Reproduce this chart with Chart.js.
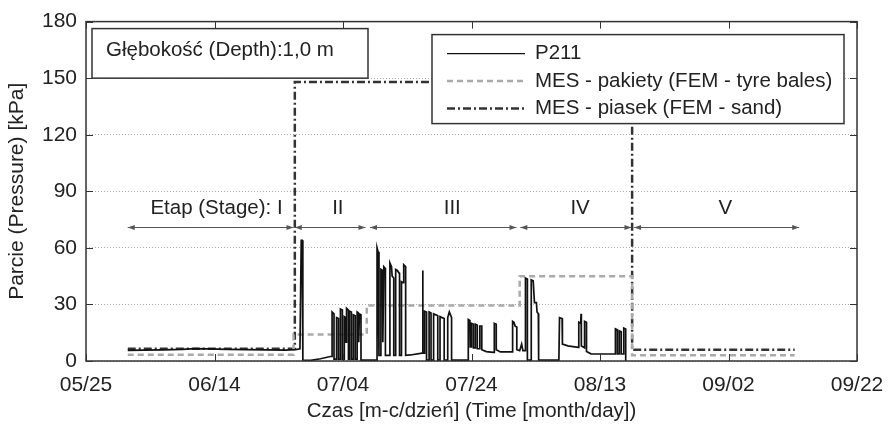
<!DOCTYPE html>
<html>
<head>
<meta charset="utf-8">
<script src="https://cdn.jsdelivr.net/npm/chart.js@4.4.1/dist/chart.umd.min.js"></script>
<style>body{margin:0;background:#fff}canvas{display:block}</style>
</head>
<body>
<canvas id="c" width="888" height="426"></canvas>
<script>
// days counted from 05/25
const xTickLabels = ["05/25", "06/14", "07/04", "07/24", "08/13", "09/02", "09/22"];
const seriesNames = ["P211", "MES - pakiety (FEM - tyre bales)", "MES - piasek (FEM - sand)"];
const depthLabel = "Głębokość (Depth):1,0 m";

// measured pressure P211 [day, kPa]
const p211 = [
  [6.5,5.6],[9,5.8],[12,5.9],[15,6.2],[17,6.6],[19,6.4],[22,6.2],[25,6.0],[28,5.9],[31,5.8],[32.6,6.0],[33.3,6.5],
  [33.5,64],[33.65,64],[33.75,0.5],[35,0.3],[36.5,1.2],[38.2,2.5],
  [38.3,2.5],[38.3,26],[38.6,25],[38.6,1],
  [39.0,1],[39.0,23],[39.3,22.5],[39.3,1],
  [39.6,1],[39.6,27.5],[39.9,27],[39.9,1],
  [40.2,1],[40.2,23.5],[40.4,23],[40.45,10],[40.55,10],[40.55,28],[40.85,27],[40.85,1],
  [41.0,1],[41.0,26.5],[41.3,26],[41.3,1],
  [41.6,1],[41.6,24.5],[41.9,24],[41.9,1],
  [42.2,1],[42.2,26],[42.4,25.5],[42.45,10],[42.55,25],[42.8,24.5],[42.8,0.5],
  [45.2,0.5],
  [45.3,0.5],[45.3,60],[45.45,58],[45.6,3],
  [45.9,3],[45.9,48.6],[46.15,48],[46.2,10],[46.35,50],[46.6,49],[46.6,3],
  [47.3,3],[47.3,52],[47.55,50],[47.65,45],[47.9,44],[47.9,3],
  [48.2,3],[48.2,48.5],[48.45,48],[48.55,47.5],[48.8,46.5],[48.8,3],
  [49.1,3],[49.1,42],[49.35,41.5],[49.45,51],[49.75,50],[49.75,3],
  [50.5,3.2],[52.3,4.2],[52.4,48],[52.45,4.2],[52.7,4.2],
  [52.7,26.4],[53.0,26],[53.0,0.5],
  [53.4,0.5],[53.4,26],[53.7,25.5],[53.7,0.5],
  [54.1,0.5],[54.1,25],[54.35,24.6],[54.45,24.5],[54.75,24],[54.75,0.5],
  [55.1,0.5],[55.1,23.5],[55.4,23],[55.45,23],[55.75,22.5],[55.75,0.5],
  [56.3,0.5],[56.3,23],[56.55,26],[56.6,26],[56.9,23],[56.9,0.5],
  [59.4,0.5],
  [59.5,0.5],[59.5,22],[59.75,21.5],[59.8,7.5],[60.0,7.5],[60.0,20],[60.3,19.5],[60.3,7],
  [60.6,7],[60.6,19.5],[60.9,19],[60.9,6.5],[61.3,6.5],[61.3,18.5],[61.6,18.5],[61.6,6],
  [62.3,5],[63.4,4.6],[63.55,4.6],[63.55,20],[63.85,19.5],[63.85,6],[64.5,4.8],[66.3,4.8],
  [66.4,4.8],[66.4,21],[66.6,20.5],[66.8,18.5],[67.05,18],[67.05,6],[67.5,5.5],[67.8,9],[68.0,5.5],[68.3,5.5],
  [68.4,5.5],[68.4,44],[68.7,43.5],[68.7,0.5],[69.3,0.5],[69.3,43],[69.6,42.5],[69.8,31],[70.1,31],[70.2,26],[70.4,25],[70.45,0.5],
  [73.6,0.5],[73.7,23],[74.1,22.5],[74.15,9],[75,8],[76.6,7.2],
  [76.7,7.2],[76.7,20.6],[77.0,20],[77.05,25],[77.1,8],[77.6,7],[77.6,21],[77.9,20.5],[77.9,5],[78.6,3.8],[82.3,3.7],
  [82.4,3.7],[82.4,17],[82.7,16.5],[82.7,3.7],[83.0,3.7],[83.0,16],[83.3,15.5],[83.3,3.7],
  [83.7,3.7],[83.7,17.5],[84.0,17],[84.0,0]
];

// FEM results
const tyreDays = [6.5, 32.3, 32.3, 43.7, 43.7, 67.5, 67.5, 85, 85, 110.3];
const tyreVals = [3.3, 3.3, 14, 14, 29.5, 29.5, 45, 45, 3, 3];
const sandDays = [6.5, 32.5, 32.5, 85, 85, 110.3];
const sandVals = [6.5, 6.5, 148, 148, 6, 6];

// stages
const stageNames = ["Etap (Stage): I", "II", "III", "IV", "V"];
const stageFrom = [6.5, 32.5, 44.2, 67.6, 85.3];
const stageTo = [32.3, 43.5, 67, 84.9, 111];

const toPts = (xs, ys) => xs.map((d, i) => ({x: d, y: ys[i]}));

const styles = [
  {color: '#111', width: 1.7, dash: []},
  {color: '#aaa', width: 2.5, dash: [6, 4]},
  {color: '#333', width: 2.5, dash: [8, 3, 2, 3]}
];
const txtFont = '20.5px "Liberation Sans", Arial, sans-serif';

function arrowHead(ctx, px, py, dir) {
  ctx.beginPath();
  ctx.moveTo(px, py);
  ctx.lineTo(px + dir * 7, py - 2.5);
  ctx.lineTo(px + dir * 7, py + 2.5);
  ctx.closePath();
  ctx.fill();
}

const deco = {
  id: 'deco',
  afterDatasetsDraw(chart) {
    const {ctx, chartArea: a, scales: {x, y}} = chart;
    ctx.save();
    ctx.setLineDash([]);

    // stage arrows and labels
    const ay = Math.round(y.getPixelForValue(71)) + 0.5;
    ctx.strokeStyle = '#555';
    ctx.fillStyle = '#555';
    ctx.lineWidth = 1;
    stageFrom.forEach((d, i) => {
      const x0 = x.getPixelForValue(d), x1 = x.getPixelForValue(stageTo[i]);
      ctx.beginPath(); ctx.moveTo(x0, ay); ctx.lineTo(x1, ay); ctx.stroke();
      arrowHead(ctx, x0, ay, 1);
      arrowHead(ctx, x1, ay, -1);
    });
    ctx.fillStyle = '#222';
    ctx.font = txtFont;
    ctx.textBaseline = 'middle';
    const ly = y.getPixelForValue(81);
    const labelAt = [30.6, 39.2, 57, 76.9, 99.5];
    stageNames.forEach((s, i) => {
      ctx.textAlign = i === 0 ? 'right' : 'center';
      ctx.fillText(s, x.getPixelForValue(labelAt[i]), ly);
    });

    // depth box
    ctx.lineWidth = 1.5;
    ctx.strokeStyle = '#333';
    const bx = a.left + 6, by = a.top + 7, bw = 276, bh = y.getPixelForValue(150) - by;
    ctx.fillStyle = '#fff';
    ctx.fillRect(bx, by, bw, bh);
    ctx.strokeRect(bx, by, bw, bh);
    ctx.fillStyle = '#222';
    ctx.textAlign = 'left';
    ctx.fillText(depthLabel, bx + 14, by + bh / 2 - 3);

    // legend box
    const gx = a.left + 346, gy = a.top + 13, gw = a.right - 13 - gx, gh = 89;
    ctx.fillStyle = '#fff';
    ctx.fillRect(gx, gy, gw, gh);
    ctx.strokeRect(gx, gy, gw, gh);
    seriesNames.forEach((s, i) => {
      const ry = gy + 19 + i * 27.5;
      ctx.strokeStyle = styles[i].color;
      ctx.lineWidth = i === 0 ? 1.2 : styles[i].width;
      ctx.setLineDash(styles[i].dash);
      ctx.beginPath(); ctx.moveTo(gx + 15, ry); ctx.lineTo(gx + 93, ry); ctx.stroke();
      ctx.setLineDash([]);
      ctx.fillStyle = '#222';
      ctx.fillText(s, gx + 103, ry);
    });

    // frame and inward ticks
    ctx.strokeStyle = '#333';
    ctx.lineWidth = 1.5;
    ctx.strokeRect(a.left, a.top, a.right - a.left, a.bottom - a.top);
    ctx.lineWidth = 1;
    ctx.beginPath();
    x.ticks.forEach(t => {
      const px = Math.round(x.getPixelForValue(t.value)) + 0.5;
      ctx.moveTo(px, a.bottom); ctx.lineTo(px, a.bottom - 7);
      ctx.moveTo(px, a.top); ctx.lineTo(px, a.top + 7);
    });
    y.ticks.forEach(t => {
      const py = Math.round(y.getPixelForValue(t.value)) + 0.5;
      ctx.moveTo(a.left, py); ctx.lineTo(a.left + 7, py);
      ctx.moveTo(a.right, py); ctx.lineTo(a.right - 7, py);
    });
    ctx.stroke();
    ctx.restore();
  }
};

Chart.defaults.font.family = '"Liberation Sans", Arial, sans-serif';
Chart.defaults.color = '#222';

new Chart(document.getElementById('c').getContext('2d'), {
  type: 'line',
  data: {
    datasets: [
      {label: seriesNames[0], data: p211.map(p => ({x: p[0], y: p[1]})),
       borderColor: styles[0].color, borderWidth: styles[0].width},
      {label: seriesNames[1], data: toPts(tyreDays, tyreVals),
       borderColor: styles[1].color, borderWidth: styles[1].width, borderDash: styles[1].dash},
      {label: seriesNames[2], data: toPts(sandDays, sandVals),
       borderColor: styles[2].color, borderWidth: styles[2].width, borderDash: styles[2].dash}
    ]
  },
  options: {
    responsive: false,
    animation: false,
    devicePixelRatio: 1,
    elements: {point: {radius: 0}, line: {tension: 0, fill: false}},
    layout: {padding: {top: 19, right: 31, left: 0, bottom: 0}},
    plugins: {legend: {display: false}, tooltip: {enabled: false}},
    scales: {
      x: {
        type: 'linear', min: 0, max: 120,
        ticks: {stepSize: 20, padding: 4, font: {size: 21}, maxRotation: 0,
                callback: v => xTickLabels[v / 20]},
        grid: {display: false},
        border: {display: false},
        title: {display: true, text: 'Czas [m-c/dzień] (Time [month/day])',
                font: {size: 20.5}, padding: {top: 0, bottom: 2}},
        afterFit: s => { s.height = 65; }
      },
      y: {
        min: 0, max: 180,
        ticks: {stepSize: 30, padding: 9, font: {size: 21}},
        grid: {color: '#aaa', lineWidth: 1, drawTicks: false},
        border: {display: false, dash: [1, 2]},
        title: {display: true, text: 'Parcie (Pressure) [kPa]',
                font: {size: 21}, padding: {top: 5, bottom: 0}},
        afterFit: s => { s.width = 86; }
      }
    }
  },
  plugins: [deco]
});
</script>
</body>
</html>
